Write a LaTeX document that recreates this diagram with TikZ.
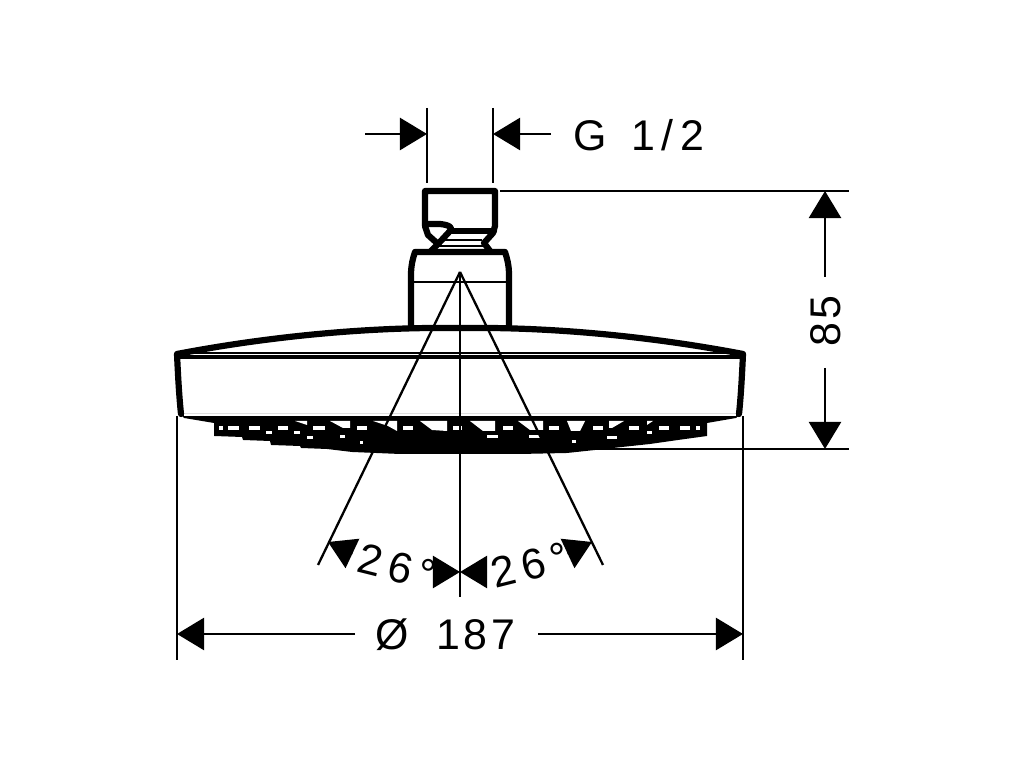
\documentclass[tikz,border=0pt]{standalone}
\usepackage{fontspec}
\setmainfont{Liberation Sans}
\usetikzlibrary{arrows.meta}
\newfontfamily\dimfont[LetterSpace=9]{Liberation Sans}
\newfontfamily\anglefont[LetterSpace=15]{Liberation Sans}
\tikzset{
  dimline/.style={line width=0.023cm,draw=cln},
  dimtip/.style={line width=0.023cm,draw=cln,-{Triangle[length=0.27cm,width=0.32cm]}},
  outline/.style={line width=0.062cm,draw=cln,line join=round,line cap=round},
  thinline/.style={line width=0.02cm,draw=cln},
  dimlabel/.style={inner sep=0pt,text=cln,font=\fontsize{12.2pt}{14pt}\selectfont\dimfont},
  anglelabel/.style={inner sep=0pt,text=cln,font=\fontsize{12.2pt}{14pt}\selectfont\anglefont},
  gap/.style={fill=white,draw=none}
}
\begin{document}
\begin{tikzpicture}[x=0.01cm,y=-0.01cm]
%
\useasboundingbox (0,0) rectangle (1024,768);
%
\definecolor{cln}{rgb}{0.0,0.0,0.0}
%
% thread size
\coordinate (gl0) at (427,108);
\coordinate (gl1) at (427,183);
\coordinate (gr0) at (493,108);
\coordinate (gr1) at (493,183);
\coordinate (gla) at (365,134);
\coordinate (glb) at (427,134);
\coordinate (gra) at (551,134);
\coordinate (grb) at (493,134);
\draw[dimline] (gl0) -- (gl1);
\draw[dimline] (gr0) -- (gr1);
\draw[dimtip] (gla) -- (glb);
\draw[dimtip] (gra) -- (grb);
\node[dimlabel] (lthread) at (639,135) {G\hspace{0.2em} 1\hspace{0.15em}/\hspace{0.15em}2};
%
% connection nut
\draw[outline] (425,226) -- (425,191) -- (495,191) -- (495,226) -- (493,233) -- (484,243) -- (490,251);
\draw[outline] (425,226) -- (428,235) -- (438,244) -- (431,251);
\draw[outline] (425,224) -- (440,224) .. controls (450,225) and (453,228) .. (450,231) -- (438,244);
\draw[outline] (450,231) -- (494,231);
\draw[thinline] (440,240) -- (482,240);
\draw[thinline] (436,246) -- (486,246);
%
% elbow
\draw[outline] (411,328) -- (411,275) .. controls (411,265) and (413,258) .. (415,252) -- (505,252) .. controls (507,258) and (509,265) .. (509,275) -- (509,328);
\draw[thinline] (411,282) -- (509,282);
%
% head
\fill[cln] (180,414) -- (184,418) -- (214,423) -- (214,436) -- (242,437) -- (243,440) -- (270,441) -- (271,445) -- (300,446) -- (301,448) -- (327,449) -- (352,452) -- (400,454) -- (520,454) -- (567,453) -- (595,450) -- (622,447) -- (650,444) -- (678,440) -- (707,436) -- (707,423) -- (736,418) -- (741,414) -- cycle;
\draw[outline] (181,414) .. controls (179,395) and (178,375) .. (177,354) .. controls (250,340) and (340,329) .. (430,328) -- (490,328) .. controls (580,329) and (670,340) .. (743,354) .. controls (742,375) and (741,395) .. (739,414);
\draw[thinline] (180,353) -- (740,353);
\draw[line width=0.035cm,draw=cln] (180,357) -- (740,357);
\draw[line width=0.017cm,draw=white] (184,415) -- (736,415);
%
% nozzles, first row
\foreach \xa/\xb in {219/223,228/239,249/260,278/288,313/325,357/367,403/413,453/462,503/513,549/559,593/603,629/639,659/669,680/690,696/700}
  \fill[gap] (\xa,426) rectangle (\xb,430);
% nozzles, second row
\foreach \xa/\xb/\ya in {266/272/431,294/300/431,307/313/436,340/345/435,360/363/441,487/498/435,529/540/435,572/576/440,607/617/436,647/652/431}
  \fill[gap] (\xa,\ya) rectangle (\xb,\ya+3);
% nozzles, slanted
\fill[gap] (295,421) -- (307,421) -- (307,425) -- cycle;
\fill[gap] (330,421) -- (350,421) -- (350,428) -- (343,428) -- cycle;
\fill[gap] (373,421) -- (397,421) -- (397,431) -- (388,426) -- cycle;
\fill[gap] (420,421) -- (447,421) -- (447,431) -- (432,430) -- cycle;
\fill[gap] (470,421) -- (495,421) -- (495,431) -- (483,431) -- cycle;
\fill[gap] (518,421) -- (543,421) -- (543,430) -- (530,430) -- cycle;
\fill[gap] (567,421) -- (585,421) -- (580,431) -- (571,431) -- cycle;
\fill[gap] (609,421) -- (624,421) -- (612,428) -- (609,428) -- cycle;
\fill[gap] (647,421) -- (653,421) -- (647,425) -- cycle;
%
% spray angle
\coordinate (apex) at (460,272);
\coordinate (sl) at (318,565);
\coordinate (sr) at (603,565);
\coordinate (sm) at (460,597);
\draw[dimline] (apex) -- (sl);
\draw[dimline] (apex) -- (sr);
\draw[dimline] (apex) -- (sm);
\coordinate (al0) at (352.5,553.5);
\coordinate (al1) at (328,542);
\coordinate (ar0) at (567.5,553.5);
\coordinate (ar1) at (592,542);
\coordinate (ml0) at (433,572);
\coordinate (mr0) at (487,572);
\coordinate (mm) at (460,572);
\draw[dimtip] (al0) -- (al1);
\draw[dimtip] (ar0) -- (ar1);
\draw[dimtip] (ml0) -- (mm);
\draw[dimtip] (mr0) -- (mm);
\node[anglelabel,rotate=-14] (langle) at (397,567) {26°};
\node[anglelabel,rotate=14] (rangle) at (530,565) {26°};
%
% diameter
\coordinate (dl0) at (177,416);
\coordinate (dl1) at (177,660);
\coordinate (dr0) at (743,416);
\coordinate (dr1) at (743,660);
\coordinate (da) at (355,634);
\coordinate (db) at (177,634);
\coordinate (dc) at (538,634);
\coordinate (dd) at (743,634);
\draw[dimline] (dl0) -- (dl1);
\draw[dimline] (dr0) -- (dr1);
\draw[dimtip] (da) -- (db);
\draw[dimtip] (dc) -- (dd);
\node[dimlabel] (ldiam) at (445.5,635) {Ø\hspace{0.27em} 187};
%
% height
\coordinate (ht0) at (500,191);
\coordinate (ht1) at (849,191);
\coordinate (hb0) at (590,449);
\coordinate (hb1) at (849,449);
\coordinate (ha) at (825,277);
\coordinate (hb) at (825,191);
\coordinate (hc) at (825,368);
\coordinate (hd) at (825,449);
\draw[dimline] (ht0) -- (ht1);
\draw[dimline] (hb0) -- (hb1);
\draw[dimtip] (ha) -- (hb);
\draw[dimtip] (hc) -- (hd);
\node[dimlabel,rotate=90] (lheight) at (826,321) {85};
%
\end{tikzpicture}
\end{document}
